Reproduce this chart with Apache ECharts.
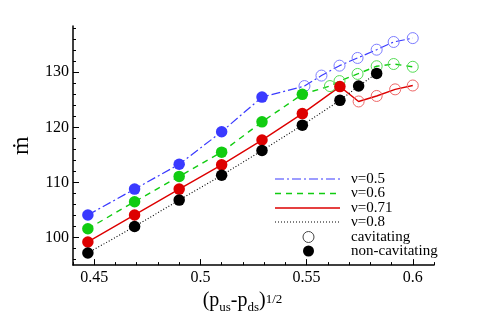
<!DOCTYPE html>
<html>
<head>
<meta charset="utf-8">
<script src="https://cdn.jsdelivr.net/npm/echarts@6/dist/echarts.min.js"></script>
<style>
  html, body { margin: 0; padding: 0; background: #fff; }
  #chart { width: 481px; height: 321px; }
</style>
</head>
<body>
<div id="chart"></div>
<script>
// tick values
var xMajor = [0.45, 0.5, 0.55, 0.6];
var xMinor = [0.44, 0.46, 0.47, 0.48, 0.49, 0.51, 0.52, 0.53, 0.54, 0.56, 0.57, 0.58, 0.59, 0.61];
var yMajor = [100, 110, 120, 130];
var yMinor = [96, 98, 102, 104, 106, 108, 112, 114, 116, 118, 122, 124, 126, 128, 132, 134, 136, 138];

// nu = 0.5
var nu05X = [0.447, 0.469, 0.490, 0.510, 0.529, 0.549, 0.557, 0.5655, 0.574, 0.583, 0.591, 0.600];
var nu05Y = [104.1, 108.8, 113.3, 119.2, 125.5, 127.5, 129.4, 131.2, 132.6, 134.1, 135.5, 136.2];
var nu05Solid = 5;
// nu = 0.6
var nu06X = [0.447, 0.469, 0.490, 0.510, 0.529, 0.548, 0.561, 0.5655, 0.574, 0.583, 0.591, 0.600];
var nu06Y = [101.6, 106.5, 111.1, 115.5, 121.0, 126.0, 127.5, 128.4, 129.7, 131.1, 131.5, 131.0];
var nu06Solid = 6;
// nu = 0.71
var nu071X = [0.447, 0.469, 0.490, 0.510, 0.529, 0.548, 0.5657, 0.5745, 0.583, 0.5917, 0.600];
var nu071Y = [99.2, 104.1, 108.8, 113.2, 117.7, 122.5, 127.4, 124.7, 125.7, 126.9, 127.6];
var nu071Solid = 7;
// nu = 0.8
var nu08X = [0.447, 0.469, 0.490, 0.510, 0.529, 0.548, 0.5657, 0.5745, 0.583];
var nu08Y = [97.2, 102.0, 106.8, 111.3, 115.8, 120.4, 124.9, 127.5, 129.8];
var nu08Solid = 9;

var names = ['ν=0.5', 'ν=0.6', 'ν=0.71', 'ν=0.8'];

var serif = "'Liberation Serif', 'DejaVu Serif', serif";

var curves = [
  { name: names[0], x: nu05X, y: nu05Y, solid: nu05Solid, color: '#3a3aff', open: '#7d7dff', dash: [9, 3, 2, 3], width: 1.2 },
  { name: names[1], x: nu06X, y: nu06Y, solid: nu06Solid, color: '#11cc11', open: '#55dd55', dash: [6, 5], width: 1.4 },
  { name: names[2], x: nu071X, y: nu071Y, solid: nu071Solid, color: '#dd0000', open: '#ee6666', dash: 'solid', width: 1.4 },
  { name: names[3], x: nu08X, y: nu08Y, solid: nu08Solid, color: '#000000', open: '#888888', dash: [1, 2], width: 1.1 }
];

function pairs(xs, ys) {
  return xs.map(function (x, i) { return [x, ys[i]]; });
}

var series = [];
curves.forEach(function (c) {
  var pts = pairs(c.x, c.y);
  series.push({
    name: c.name,
    type: 'line',
    data: pts,
    symbol: 'none',
    silent: true,
    z: 2,
    lineStyle: { color: c.color, width: c.width, type: c.dash }
  });
  series.push({
    type: 'scatter',
    data: pts.slice(0, c.solid),
    symbol: 'circle',
    symbolSize: 11.5,
    z: 4,
    itemStyle: { color: c.color, opacity: 1 }
  });
  if (c.solid < pts.length) {
    series.push({
      type: 'scatter',
      data: pts.slice(c.solid),
      symbol: 'circle',
      symbolSize: 11,
      z: 3,
      itemStyle: { color: 'rgba(0,0,0,0)', borderColor: c.open, borderWidth: 1, opacity: 1 }
    });
  }
});

// legend drawn by hand
var legendY = [179, 193.5, 208, 222];
var graphic = [];
curves.forEach(function (c, i) {
  graphic.push({
    type: 'line',
    shape: { x1: 275, y1: legendY[i], x2: 340, y2: legendY[i] },
    style: { stroke: c.color, lineWidth: c.width, lineDash: c.dash === 'solid' ? null : c.dash }
  });
  graphic.push({
    type: 'text', x: 351, y: legendY[i],
    style: { text: c.name, font: '15px ' + serif, fill: '#000', textVerticalAlign: 'middle' }
  });
});
graphic.push({
  type: 'circle', shape: { cx: 308.5, cy: 237, r: 5.5 },
  style: { fill: '#fff', stroke: '#444', lineWidth: 1 }
});
graphic.push({
  type: 'text', x: 351, y: 237,
  style: { text: 'cavitating', font: '15px ' + serif, fill: '#000', textVerticalAlign: 'middle' }
});
graphic.push({
  type: 'circle', shape: { cx: 308.5, cy: 251, r: 5.5 },
  style: { fill: '#000' }
});
graphic.push({
  type: 'text', x: 351, y: 251,
  style: { text: 'non-cavitating', font: '15px ' + serif, fill: '#000', textVerticalAlign: 'middle' }
});

var myChart = echarts.init(document.getElementById('chart'));

var option = {
  animation: false,
  backgroundColor: '#fff',
  grid: { left: 73, right: 47, top: 26, bottom: 48 },
  xAxis: [
    {
      type: 'value',
      min: 0.44,
      max: 0.61,
      axisLine: { onZero: false, lineStyle: { color: '#000', width: 1.5 } },
      axisTick: { inside: true, length: 6, customValues: xMajor, lineStyle: { color: '#000' } },
      axisLabel: { customValues: xMajor, color: '#000', fontFamily: serif, fontSize: 16, margin: 5 },
      splitLine: { show: false },
      name: '{a|(p}{s|us}{a|-p}{s|ds}{a|)}{p|1/2}',
      nameLocation: 'middle',
      nameGap: 14,
      nameTextStyle: {
        padding: [0, 22, 0, 0],
        rich: {
          a: { fontFamily: serif, fontSize: 20, color: '#000', lineHeight: 21, padding: [0, 0, 5, 0] },
          s: { fontFamily: serif, fontSize: 13, color: '#000', lineHeight: 13, verticalAlign: 'bottom' },
          p: { fontFamily: serif, fontSize: 13, color: '#000', lineHeight: 13, verticalAlign: 'top' }
        }
      }
    },
    {
      type: 'value',
      min: 0.44,
      max: 0.61,
      position: 'bottom',
      axisLine: { show: false },
      axisTick: { inside: true, length: 3, customValues: xMinor, lineStyle: { color: '#000' } },
      axisLabel: { show: false },
      splitLine: { show: false }
    }
  ],
  yAxis: [
    {
      type: 'value',
      min: 95,
      max: 138.4,
      axisLine: { show: true, onZero: false, lineStyle: { color: '#000', width: 1.5 } },
      axisTick: { show: true, inside: true, length: 6, customValues: yMajor, lineStyle: { color: '#000' } },
      axisLabel: { customValues: yMajor, color: '#000', fontFamily: serif, fontSize: 16, margin: 4 },
      splitLine: { show: false },
      name: 'ṁ',
      nameLocation: 'middle',
      nameRotate: 90,
      nameGap: 38,
      nameTextStyle: { fontFamily: serif, fontSize: 24, color: '#000' }
    },
    {
      type: 'value',
      min: 95,
      max: 138.4,
      position: 'left',
      axisLine: { show: false },
      axisTick: { show: true, inside: true, length: 3, customValues: yMinor, lineStyle: { color: '#000' } },
      axisLabel: { show: false },
      splitLine: { show: false }
    }
  ],
  series: series,
  graphic: graphic
};

myChart.setOption(option);
</script>
</body>
</html>
